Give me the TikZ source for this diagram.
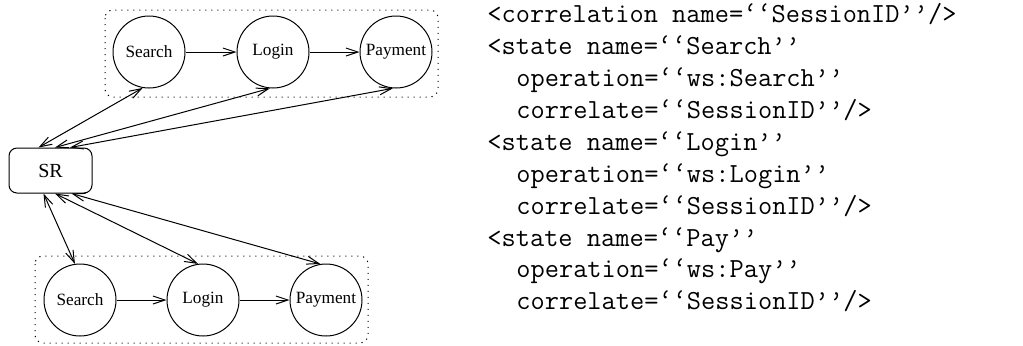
\documentclass[tikz,border=0pt]{standalone}
\usepackage{fontspec}
\setmainfont{Liberation Serif}
\usepackage{tikz}
\usetikzlibrary{arrows.meta}
\newcommand{\grpbox}[4]{\draw[line width=0.5pt, dash pattern=on 0.6pt off 2.4pt, rounded corners=4pt] ( #1 , #2 ) rectangle ( #3 , #4 );}
\newcommand{\codeln}[3]{\node[codetxt] (#1) at (#2) {#3};}
\tikzset{
  st/.style={circle, draw, line width=0.5pt, minimum size=36pt, inner sep=0pt, font=\fontsize{8.6}{10}\selectfont},
  srbox/.style={draw, line width=0.5pt, rounded corners=4pt, minimum width=41.5pt, minimum height=22.5pt, inner sep=0pt, font=\fontsize{10}{12}\selectfont},
  flow/.style={-{Straight Barb[length=6pt,width=4pt]}, line width=0.5pt},
  link/.style={{Straight Barb[length=6pt,width=4pt]}-{Straight Barb[length=6pt,width=4pt]}, line width=0.5pt},
  codetxt/.style={anchor=base west, inner sep=0pt, font=\fontsize{13.8}{16}\ttfamily}
}

\begin{document}
\begin{tikzpicture}[x=0.5pt, y=-0.5pt]
            \useasboundingbox (0,0) rectangle (1023,345);
            % top group
            \grpbox{105}{10}{438}{97}
            \node[st] (ts) at (149,52) {Search};
            \node[st] (tl) at (273,52) {Login};
            \node[st] (tp) at (396,52) {Payment};
            \draw[flow] (ts) -- (tl);
            \draw[flow] (tl) -- (tp);
            % bottom group
            \grpbox{35}{256}{368}{343}
            \node[st] (bs) at (80,300) {Search};
            \node[st] (bl) at (203,300) {Login};
            \node[st] (bp) at (326,300) {Payment};
            \draw[flow] (bs) -- (bl);
            \draw[flow] (bl) -- (bp);
            % SR
            \node[srbox] (sr) at (50.5,170.5) {SR};
            \draw[link] ([xshift=-6pt]sr.north) -- (ts.260);
            \draw[link] ([xshift=2.25pt]sr.north) -- (tl.265);
            \draw[link] ([xshift=9.75pt]sr.north) -- (tp.265);
            \draw[link] ([xshift=-3.5pt]sr.south) -- (bs.98);
            \draw[link] ([xshift=2.25pt]sr.south) -- (bl.98);
            \draw[link] ([xshift=10.5pt]sr.south) -- (bp.99);
            % code
            \codeln{c1}{487,22.7}{<correlation name=‘‘SessionID’’/>}
            \codeln{c2}{487,54.6}{<state name=‘‘Search’’}
            \codeln{c3}{516,86.5}{operation=‘‘ws:Search’’}
            \codeln{c4}{516,118.4}{correlate=‘‘SessionID’’/>}
            \codeln{c5}{487,150.3}{<state name=‘‘Login’’}
            \codeln{c6}{516,182.2}{operation=‘‘ws:Login’’}
            \codeln{c7}{516,214.1}{correlate=‘‘SessionID’’/>}
            \codeln{c8}{487,246.0}{<state name=‘‘Pay’’}
            \codeln{c9}{516,277.9}{operation=‘‘ws:Pay’’}
            \codeln{c10}{516,309.8}{correlate=‘‘SessionID’’/>}
        \end{tikzpicture}
\end{document}
